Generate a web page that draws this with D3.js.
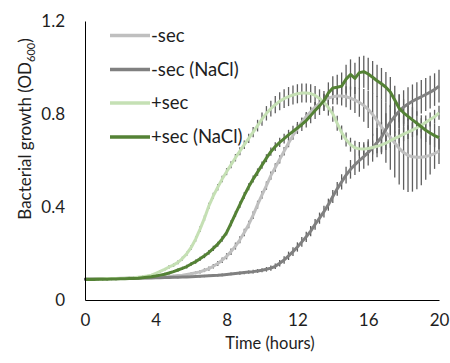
<!DOCTYPE html>
<html>
<head>
<meta charset="utf-8">
<script src="https://cdn.jsdelivr.net/npm/d3@7"></script>
<style>
  body { margin: 0; background: #fff; }
  text { font-family: Lato, "Open Sans", sans-serif; fill: #1e1e1e; }
</style>
</head>
<body>
<svg id="chart" width="450" height="363"></svg>
<script>
// readings every 15 min, 0..20 h
const timeStep = 0.25
const xTicks = [0, 4, 8, 12, 16, 20]
const yTicks = [0, 0.4, 0.8, 1.2]
const seriesNames = ["-sec", "-sec (NaCl)", "+sec", "+sec (NaCl)"]
const seriesColors = ["#bfbfbf", "#808080", "#c5e0b4", "#548235"]

const minusSec = [
  .092, .092, .092, .092, .092, .093, .093, .093, .094, .094, .094, .095,
  .095, .096, .096, .097, .098, .099, .100, .101, .103, .105, .107, .110,
  .113, .117, .121, .128, .135, .145, .157, .171, .188, .208, .232, .259,
  .290, .325, .365, .410, .452, .492, .535, .570, .605, .640, .675, .708,
  .737, .765, .789, .810, .830, .846, .858, .868, .874, .877, .877, .874,
  .868, .860, .850, .837, .820, .798, .772, .745, .720, .700, .675, .652,
  .634, .622, .616, .614, .614, .617, .622, .630, .640]
const minusSecNaCl = [
  .090, .090, .091, .091, .092, .092, .092, .093, .093, .093, .094, .094,
  .094, .095, .095, .095, .096, .096, .097, .097, .098, .098, .099, .099,
  .100, .101, .102, .103, .104, .105, .106, .108, .110, .112, .114, .116,
  .118, .120, .122, .125, .128, .132, .137, .145, .158, .172, .190, .208,
  .228, .250, .272, .296, .325, .352, .380, .410, .445, .478, .508, .537,
  .562, .582, .600, .617, .635, .655, .677, .700, .735, .765, .790, .812,
  .830, .843, .855, .865, .874, .884, .894, .905, .920]
const plusSec = [
  .090, .090, .090, .091, .091, .092, .092, .093, .093, .094, .095, .096,
  .098, .100, .103, .107, .115, .123, .132, .142, .150, .162, .178, .199,
  .226, .262, .305, .352, .405, .448, .485, .520, .552, .582, .612, .640,
  .668, .695, .722, .750, .778, .803, .823, .840, .855, .866, .875, .882,
  .887, .890, .890, .888, .880, .867, .850, .828, .800, .760, .720, .690,
  .668, .655, .650, .649, .652, .656, .661, .667, .675, .685, .695, .704,
  .713, .722, .731, .741, .752, .764, .776, .788, .805]
const plusSecNaCl = [
  .088, .088, .088, .089, .089, .089, .090, .090, .091, .091, .092, .093,
  .094, .096, .098, .100, .103, .107, .111, .116, .122, .129, .136, .144,
  .155, .165, .177, .190, .205, .222, .240, .263, .290, .330, .370, .410,
  .450, .487, .520, .550, .580, .610, .638, .660, .678, .694, .710, .725,
  .740, .755, .772, .793, .815, .835, .857, .890, .912, .915, .920, .950,
  .970, .953, .978, .982, .972, .958, .943, .930, .915, .895, .860, .825,
  .805, .790, .775, .760, .745, .730, .718, .707, .698]

// standard errors
const minusSecErr = [
  .004, .004, .004, .004, .004, .004, .004, .004, .004, .004, .004, .004,
  .004, .004, .004, .004, .004, .004, .005, .005, .005, .005, .005, .006,
  .006, .006, .007, .008, .009, .010, .011, .012, .013, .014, .015, .015,
  .016, .016, .017, .017, .017, .018, .018, .018, .018, .018, .018, .019,
  .019, .020, .020, .021, .022, .024, .026, .029, .032, .036, .040, .045,
  .050, .056, .062, .070, .080, .092, .105, .118, .130, .140, .148, .155,
  .160, .158, .150, .138, .120, .100, .082, .066, .055]
const minusSecNaClErr = [
  .004, .004, .004, .004, .004, .004, .004, .004, .004, .004, .004, .004,
  .004, .004, .004, .004, .004, .004, .004, .004, .004, .004, .004, .004,
  .004, .004, .005, .005, .005, .005, .005, .006, .006, .006, .006, .007,
  .007, .007, .008, .008, .009, .010, .011, .012, .014, .016, .018, .019,
  .020, .021, .022, .022, .023, .024, .025, .026, .028, .030, .033, .036,
  .040, .044, .048, .052, .056, .060, .063, .066, .068, .070, .071, .072,
  .072, .072, .072, .072, .072, .071, .070, .070, .070]
const plusSecErr = [
  .005, .005, .005, .005, .005, .005, .005, .005, .005, .005, .005, .005,
  .005, .005, .005, .005, .005, .006, .006, .007, .007, .008, .008, .009,
  .010, .011, .012, .012, .013, .013, .014, .014, .015, .015, .016, .017,
  .018, .020, .022, .025, .028, .031, .034, .037, .039, .040, .041, .041,
  .041, .041, .041, .040, .040, .039, .037, .035, .033, .032, .031, .030,
  .030, .030, .030, .030, .030, .030, .030, .030, .030, .030, .030, .030,
  .030, .030, .030, .030, .030, .030, .030, .030, .030]
const plusSecNaClErr = [
  .005, .005, .005, .005, .005, .005, .005, .005, .005, .005, .005, .005,
  .005, .005, .005, .005, .005, .005, .006, .006, .006, .007, .007, .008,
  .008, .009, .009, .010, .010, .011, .011, .012, .012, .013, .013, .014,
  .014, .015, .015, .016, .016, .017, .018, .019, .020, .021, .022, .024,
  .026, .028, .030, .033, .036, .039, .042, .046, .050, .054, .058, .062,
  .065, .067, .068, .069, .070, .070, .069, .068, .066, .064, .062, .060,
  .058, .056, .054, .052, .050, .050, .050, .050, .050]

const seriesValues = [minusSec, minusSecNaCl, plusSec, plusSecNaCl]
const seriesErrors = [minusSecErr, minusSecNaClErr, plusSecErr, plusSecNaClErr]

const series = seriesNames.map((name, s) => ({
  name: name,
  color: seriesColors[s],
  points: seriesValues[s].map((v, i) => ({t: i * timeStep, v: v, e: seriesErrors[s][i]}))
}))

const svg = d3.select('#chart')

const x = d3.scaleLinear().domain([0, 20]).range([85, 439])
const y = d3.scaleLinear().domain([0, 1.2]).range([300, 21])

// error bars first, lines on top
svg.append('g')
  .selectAll('g')
  .data(series)
  .enter()
  .append('g')
  .selectAll('line')
  .data(d => d.points)
  .enter()
  .append('line')
  .attr('x1', d => x(d.t))
  .attr('x2', d => x(d.t))
  .attr('y1', d => y(d.v - d.e))
  .attr('y2', d => y(d.v + d.e))
  .style('stroke', '#5e5e5e')
  .style('stroke-width', 1.3)

const line = d3.line()
  .x(d => x(d.t))
  .y(d => y(d.v))

svg.append('g')
  .selectAll('path')
  .data(series)
  .enter()
  .append('path')
  .attr('d', d => line(d.points))
  .style('fill', 'none')
  .style('stroke', d => d.color)
  .style('stroke-width', 3)
  .style('stroke-linejoin', 'round')

// axes
svg.append('g')
  .attr('transform', 'translate(85,0)')
  .call(d3.axisLeft(y).tickValues(yTicks).tickSize(0).tickSizeOuter(0).tickPadding(20)
    .tickFormat(d3.format('~g')))
svg.append('g')
  .attr('transform', 'translate(0,300)')
  .call(d3.axisBottom(x).tickValues(xTicks).tickSize(0).tickSizeOuter(0).tickPadding(14))

svg.selectAll('.domain').style('stroke', '#000').style('stroke-width', 1)
svg.selectAll('.tick text')
  .style('font-family', 'Lato, "Open Sans", sans-serif')
  .style('font-size', '17px')
  .style('fill', '#1e1e1e')

// axis titles
svg.append('text')
  .attr('x', 270)
  .attr('y', 349)
  .attr('text-anchor', 'middle')
  .style('font-size', '16.5px')
  .text('Time (hours)')

const yTitle = svg.append('text')
  .attr('transform', 'translate(31,129) rotate(-90)')
  .attr('text-anchor', 'middle')
  .style('font-size', '17px')
yTitle.append('tspan').text('Bacterial growth (OD')
yTitle.append('tspan').attr('dy', 3.5).style('font-size', '11px').text('600')
yTitle.append('tspan').attr('dy', -3.5).text(')')

// legend
const legendY = [35.5, 69.5, 103, 137]
const legend = svg.append('g')
  .selectAll('g')
  .data(series)
  .enter()
  .append('g')
  .attr('transform', (d, i) => `translate(110,${legendY[i]})`)
legend.append('line')
  .attr('x1', 0)
  .attr('x2', 40)
  .style('stroke', d => d.color)
  .style('stroke-width', 3.5)
legend.append('text')
  .attr('x', 41)
  .attr('dy', '0.35em')
  .style('font-size', '18.5px')
  .text(d => d.name)
</script>
</body>
</html>
